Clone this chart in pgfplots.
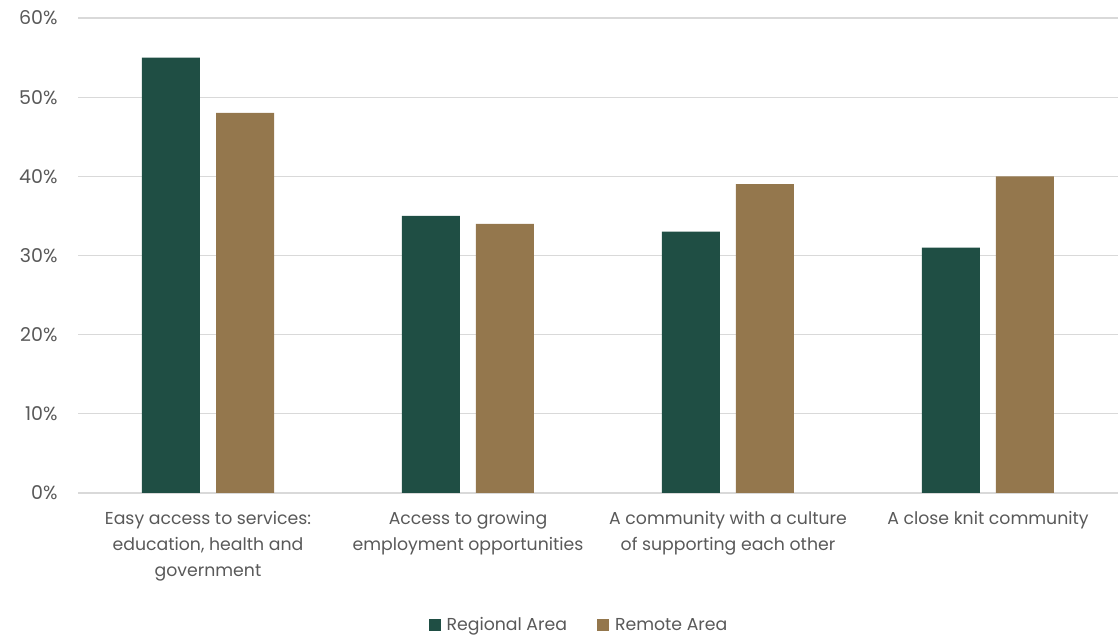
\documentclass[border=0pt]{standalone}
\usepackage{fontspec}
\setmainfont{Poppins}
\usepackage{pgfplots}
\pgfplotsset{compat=1.18}
\definecolor{regional}{HTML}{1F4E44}
\definecolor{remote}{HTML}{94774D}
\definecolor{txt}{HTML}{595959}
\definecolor{gridc}{HTML}{D9D9D9}
\begin{document}
\begin{tikzpicture}[x=1pt,y=1pt]
\useasboundingbox (0,0) rectangle (1118,639);
\begin{axis}[
  at={(78pt,146pt)}, anchor=south west,
  scale only axis, width=1040pt, height=475pt,
  ymin=0, ymax=60, xmin=-0.5, xmax=3.5,
  ybar=16pt, bar width=58pt,
  axis line style={draw=none},
  ymajorgrids, grid style={gridc, line width=1.3pt},
  major tick length=0pt,
  ytick={0,10,20,30,40,50,60},
  yticklabel={\pgfmathprintnumber{\tick}\%},
  /pgf/number format/assume math mode=true,
  yticklabel style={xshift=-17pt, font=\fontsize{19}{22}\selectfont},
  xtick={0,1,2,3},
  xticklabels={{Easy access to services:\\education, health and\\government},
               {Access to growing\\employment opportunities},
               {A community with a culture\\of supporting each other},
               {A close knit community}},
  xticklabel style={align=center, yshift=-15pt, font=\fontsize{17.3}{26}\selectfont, text=txt, anchor=north},
  ticklabel style={text=txt},
  legend style={at={(0.4817,-0.278)}, anchor=center, draw=none, legend columns=2,
    font=\fontsize{17.3}{20}\selectfont, text=txt,
    /tikz/every odd column/.append style={column sep=4pt},
    /tikz/every even column/.append style={column sep=28pt}},
  legend image code/.code={\fill[#1] (0pt,-6pt) rectangle (12pt,6pt);},
]
\addplot[fill=regional, draw=none] coordinates {(0,55) (1,35) (2,33) (3,31)};
\addplot[fill=remote, draw=none] coordinates {(0,48) (1,34) (2,39) (3,40)};
\legend{Regional Area, Remote Area}
\end{axis}
\end{tikzpicture}
\end{document}
